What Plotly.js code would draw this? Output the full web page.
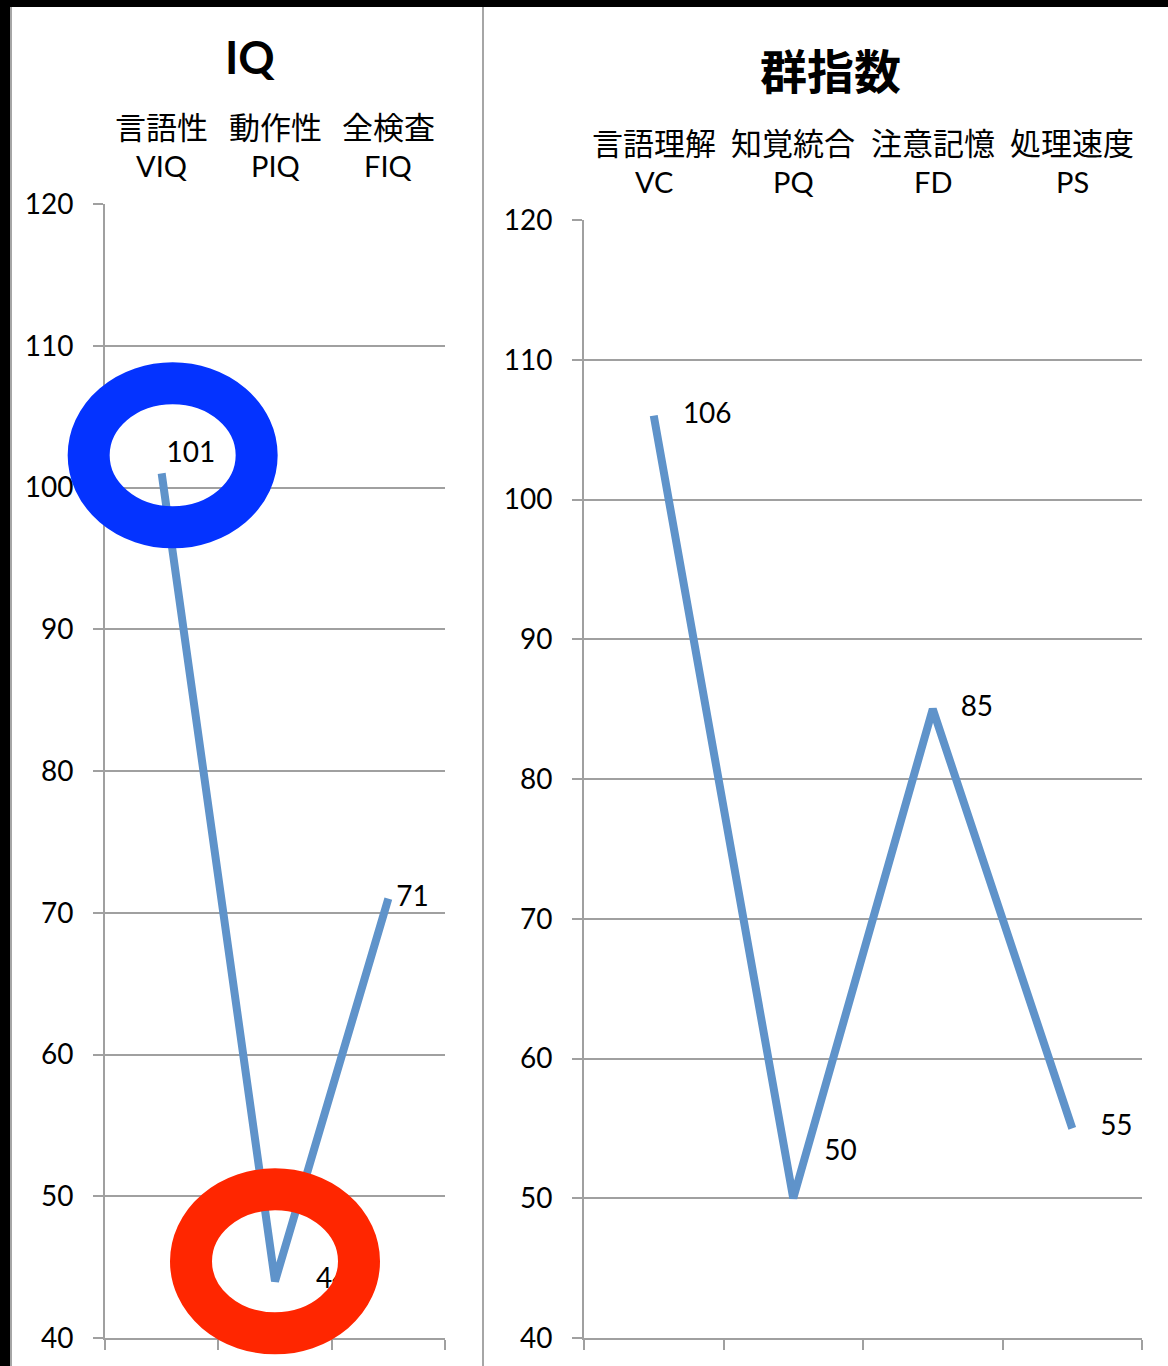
<!DOCTYPE html>
<html>
<head>
<meta charset="utf-8">
<script src="https://cdn.plot.ly/plotly-3.0.1.min.js"></script>
<style>
  html, body { margin: 0; padding: 0; background: #ffffff; }
  #chart { width: 1168px; height: 1366px; }
</style>
</head>
<body>
<div id="chart"></div>
<script>
// ---- data ----
const iqCats = ['VIQ', 'PIQ', 'FIQ'];
const iqNames = ['言語性', '動作性', '全検査'];
const iqValues = [101, 44, 71];

const idxCats = ['VC', 'PQ', 'FD', 'PS'];
const idxNames = ['言語理解', '知覚統合', '注意記憶', '処理速度'];
const idxValues = [106, 50, 85, 55];

const yTickVals = [40, 50, 60, 70, 80, 90, 100, 110, 120];
const yMin = 40, yMax = 120;

const titleLeft = 'IQ';
const titleRight = '群指数';

// ---- styles ----
const W = 1168, H = 1366;
const px = v => v / W;
const py = v => 1 - v / H;
const gridGray = '#A0A0A0';
const lineBlue = '#5F93CA';
const latin = 'Lato, "Noto Sans CJK JP", sans-serif';
const cjk = '"Noto Sans CJK JP", Lato, sans-serif';

const traces = [
  {
    x: iqCats, y: iqValues, xaxis: 'x', yaxis: 'y',
    type: 'scatter', mode: 'lines+markers+text',
    line: { color: lineBlue, width: 8 },
    marker: { size: [6, 64, 11], color: 'rgba(0,0,0,0)', line: { width: 0, color: 'rgba(0,0,0,0)' } },
    text: iqValues.map(String),
    textposition: ['top right', 'middle right', 'middle right'],
    textfont: { family: latin, size: 28, color: '#000' },
    cliponaxis: false, hoverinfo: 'skip', showlegend: false
  },
  {
    x: idxCats, y: idxValues, xaxis: 'x2', yaxis: 'y2',
    type: 'scatter', mode: 'lines+markers+text',
    line: { color: lineBlue, width: 8 },
    marker: { size: [45, 48, 43, 43], color: 'rgba(0,0,0,0)', line: { width: 0, color: 'rgba(0,0,0,0)' } },
    text: idxValues.map(String),
    textposition: ['middle right', 'top right', 'middle right', 'middle right'],
    textfont: { family: latin, size: 28, color: '#000' },
    cliponaxis: false, hoverinfo: 'skip', showlegend: false
  }
];

function xAxis(domain, n, anchor) {
  return {
    domain: domain, anchor: anchor, type: 'category',
    range: [-0.5, n - 0.5],
    showline: true, linecolor: gridGray, linewidth: 2,
    ticks: 'outside', tickson: 'boundaries', ticklen: 10, tickwidth: 2, tickcolor: gridGray,
    showticklabels: false, showgrid: false, zeroline: false, fixedrange: true
  };
}
function yAxis(domain, anchor) {
  return {
    domain: domain, anchor: anchor,
    range: [yMin, yMax], tickvals: yTickVals,
    showline: true, linecolor: gridGray, linewidth: 2,
    ticks: 'outside', ticklen: 10, tickwidth: 2, tickcolor: gridGray,
    ticklabelstandoff: 14,
    showgrid: true, gridcolor: gridGray, gridwidth: 2,
    zeroline: false, fixedrange: true,
    tickfont: { family: latin, size: 28, color: '#000' }
  };
}

const annotations = [];
iqCats.forEach((c, i) => {
  annotations.push({
    xref: 'x', yref: 'paper', x: c, y: py(125), yanchor: 'middle', xanchor: 'center',
    text: iqNames[i], showarrow: false, borderpad: 0,
    font: { family: cjk, size: 31, color: '#000' }
  });
  annotations.push({
    xref: 'x', yref: 'paper', x: c, y: py(166), yanchor: 'middle', xanchor: 'center',
    text: c, showarrow: false, borderpad: 0,
    font: { family: latin, size: 29, color: '#000' }
  });
});
idxCats.forEach((c, i) => {
  annotations.push({
    xref: 'x2', yref: 'paper', x: c, y: py(141), yanchor: 'middle', xanchor: 'center',
    text: idxNames[i], showarrow: false, borderpad: 0,
    font: { family: cjk, size: 31, color: '#000' }
  });
  annotations.push({
    xref: 'x2', yref: 'paper', x: c, y: py(182), yanchor: 'middle', xanchor: 'center',
    text: c, showarrow: false, borderpad: 0,
    font: { family: latin, size: 29, color: '#000' }
  });
});
annotations.push({
  xref: 'paper', yref: 'paper', x: px(250), y: py(57), xanchor: 'center', yanchor: 'middle',
  text: '<b>' + titleLeft + '</b>', showarrow: false,
  font: { family: latin, size: 45, color: '#000' }
});
annotations.push({
  xref: 'paper', yref: 'paper', x: px(830), y: py(68), xanchor: 'center', yanchor: 'middle',
  text: '<b>' + titleRight + '</b>', showarrow: false,
  font: { family: cjk, size: 47, color: '#000' }
});

// ring anchors in axis-domain fractions (derived from category index and value)
const fx = (i, n) => (i + 0.5) / n;
const fy = v => (v - yMin) / (yMax - yMin);

const shapes = [
  // black frame bands
  { type: 'rect', xref: 'paper', yref: 'paper', x0: 0, x1: px(10), y0: 0, y1: 1,
    fillcolor: '#000', line: { width: 0 }, layer: 'above' },
  { type: 'rect', xref: 'paper', yref: 'paper', x0: 0, x1: 1, y0: py(7), y1: 1,
    fillcolor: '#000', line: { width: 0 }, layer: 'above' },
  // panel edges
  { type: 'line', xref: 'paper', yref: 'paper', x0: px(11), x1: px(11), y0: 0, y1: py(7),
    line: { color: '#A6A6A6', width: 2 } },
  { type: 'line', xref: 'paper', yref: 'paper', x0: px(483), x1: px(483), y0: 0, y1: py(7),
    line: { color: '#A6A6A6', width: 2 } },
  // highlight rings
  { type: 'circle', xref: 'x domain', yref: 'y domain', xsizemode: 'pixel', ysizemode: 'pixel',
    xanchor: fx(0, iqCats.length), yanchor: fy(iqValues[0]), x0: -73, x1: 95, y0: -54, y1: 90,
    line: { color: '#0433FF', width: 42 }, fillcolor: 'rgba(0,0,0,0)', layer: 'above' },
  { type: 'circle', xref: 'x domain', yref: 'y domain', xsizemode: 'pixel', ysizemode: 'pixel',
    xanchor: fx(1, iqCats.length), yanchor: fy(iqValues[1]), x0: -84, x1: 84, y0: -52, y1: 92,
    line: { color: '#FF2600', width: 42 }, fillcolor: 'rgba(0,0,0,0)', layer: 'above' }
];

const layout = {
  width: W, height: H,
  margin: { l: 0, r: 0, t: 0, b: 0 },
  paper_bgcolor: '#ffffff', plot_bgcolor: '#ffffff',
  showlegend: false,
  xaxis: xAxis([px(105), px(445)], iqCats.length, 'y'),
  yaxis: yAxis([py(1338), py(204)], 'x'),
  xaxis2: xAxis([px(584), px(1142)], idxCats.length, 'y2'),
  yaxis2: yAxis([py(1338), py(220)], 'x2'),
  annotations: annotations,
  shapes: shapes
};

Plotly.newPlot('chart', traces, layout, { staticPlot: true, displayModeBar: false });
</script>
</body>
</html>
